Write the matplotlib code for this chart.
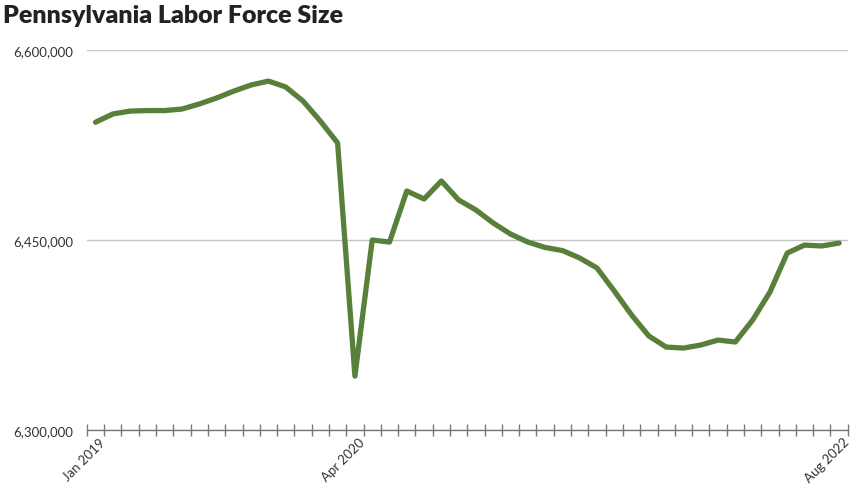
import numpy as np
import matplotlib
matplotlib.use('Agg')
import matplotlib.pyplot as plt
import matplotlib.transforms as mtransforms
from matplotlib.ticker import FuncFormatter, FixedLocator

# monthly labor force, Jan 2019 - Aug 2022
months = ['Jan 2019', 'Feb 2019', 'Mar 2019', 'Apr 2019', 'May 2019', 'Jun 2019',
          'Jul 2019', 'Aug 2019', 'Sep 2019', 'Oct 2019', 'Nov 2019', 'Dec 2019',
          'Jan 2020', 'Feb 2020', 'Mar 2020', 'Apr 2020', 'May 2020', 'Jun 2020',
          'Jul 2020', 'Aug 2020', 'Sep 2020', 'Oct 2020', 'Nov 2020', 'Dec 2020',
          'Jan 2021', 'Feb 2021', 'Mar 2021', 'Apr 2021', 'May 2021', 'Jun 2021',
          'Jul 2021', 'Aug 2021', 'Sep 2021', 'Oct 2021', 'Nov 2021', 'Dec 2021',
          'Jan 2022', 'Feb 2022', 'Mar 2022', 'Apr 2022', 'May 2022', 'Jun 2022',
          'Jul 2022', 'Aug 2022']
labor_force = [6543000, 6549500, 6551800, 6552200, 6552200, 6553400,
               6557400, 6562100, 6567600, 6572400, 6575500, 6570800,
               6559700, 6543900, 6526600, 6342600, 6450000, 6448400,
               6488700, 6482400, 6496600, 6481600, 6473700, 6463400,
               6454700, 6448400, 6444100, 6441700, 6435800, 6427900,
               6409700, 6390800, 6374200, 6365500, 6364700, 6367100,
               6371000, 6369500, 6386800, 6408900, 6439700, 6446000,
               6445300, 6447600]
labeled = ['Jan 2019', 'Apr 2020', 'Aug 2022']
yticks = [6300000, 6450000, 6600000]

plt.rcParams['font.family'] = ['Lato', 'DejaVu Sans']

fig = plt.figure(figsize=(8.52, 4.85), dpi=100)
ax = fig.add_axes([0.102, 0.1113, 0.893, 0.7835])

x = np.arange(len(months))
ax.plot(x, labor_force, color='#58803a', lw=3.8, solid_joinstyle='round',
        solid_capstyle='round', zorder=3)

ax.set_xlim(-0.5, len(months) - 0.5)
ax.set_ylim(yticks[0], yticks[-1])
ax.set_yticks(yticks)
ax.yaxis.set_major_formatter(FuncFormatter(lambda v, p: '{:,.0f}'.format(v)))
ax.grid(axis='y', color='#c4c4c4', lw=1.0)
ax.set_axisbelow(True)
ax.tick_params(axis='y', length=0, pad=10, labelsize=9.5, labelcolor='#333333')

# category boundaries get tick marks, a few months get labels
ax.xaxis.set_minor_locator(FixedLocator(np.arange(-0.5, len(months), 1.0)))
ax.tick_params(axis='x', which='minor', direction='inout', length=8,
               width=1, color='#777777')
pos = [months.index(m) for m in labeled]
ax.set_xticks(pos)
ax.set_xticklabels(labeled, rotation=45, ha='right', va='top',
                   rotation_mode='anchor', fontsize=9.5, color='#333333')
ax.tick_params(axis='x', which='major', length=0, pad=4)
shift = mtransforms.ScaledTranslation(2.5 / 72, 0, fig.dpi_scale_trans)
for lab in ax.get_xticklabels():
    lab.set_transform(lab.get_transform() + shift)

for s in ['top', 'right', 'left']:
    ax.spines[s].set_visible(False)
ax.spines['bottom'].set_color('#777777')
ax.spines['bottom'].set_linewidth(1.0)

fig.text(0.004, 0.966, 'Pennsylvania Labor Force Size', fontsize=18,
         fontweight='heavy', color='#222222', va='center', ha='left')

fig.savefig('out.png', dpi=100)
